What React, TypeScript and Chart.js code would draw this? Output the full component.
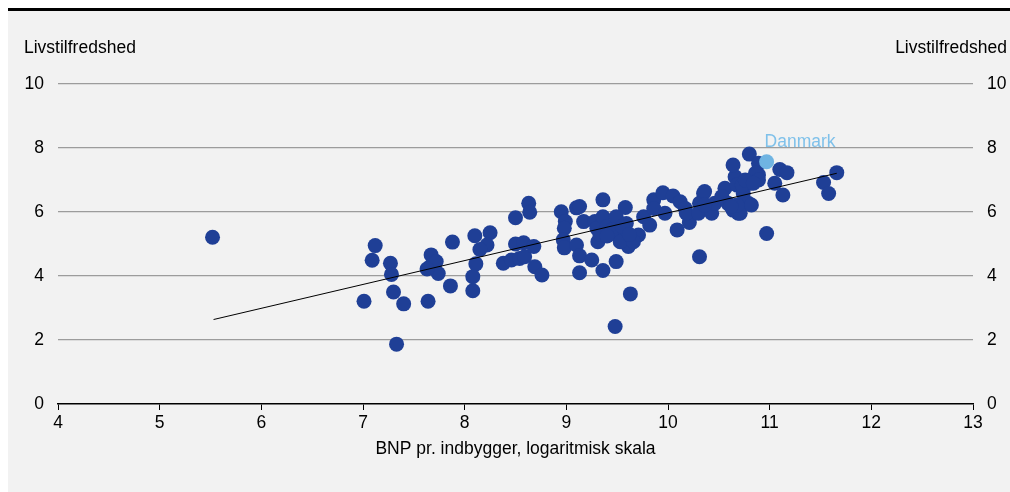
import React, { useEffect, useRef } from "react";
import { Chart, registerables } from "chart.js";

Chart.register(...registerables);

const Y_TITLE = "Livstilfredshed";
const X_TITLE = "BNP pr. indbygger, logaritmisk skala";
const DK_LABEL = "Danmark";

const gdp = [
  5.52, 7.01, 7.12, 7.09, 7.27, 7.28, 7.30, 7.40, 7.33, 7.64,
  7.67, 7.66, 7.72, 7.74, 7.63, 7.88, 7.86, 8.10, 8.25, 8.22,
  8.15, 8.11, 8.08, 8.08, 8.50, 8.63, 8.64, 8.50, 8.58, 8.38,
  8.46, 8.54, 8.59, 8.69, 8.76, 8.68, 8.95, 8.99, 8.98, 8.97,
  8.98, 9.10, 9.13, 9.10, 9.13, 9.13, 9.25, 9.17, 9.36, 9.28,
  9.30, 9.36, 9.40, 9.31, 9.36, 9.49, 9.48, 9.63, 9.58, 9.49,
  9.59, 9.61, 9.71, 9.76, 9.82, 9.86, 9.86, 9.95, 10.05, 9.97,
  10.12, 10.17, 10.09, 10.21, 10.31, 10.35, 10.31, 9.51, 9.46, 9.53,
  9.45, 9.66, 10.18, 10.30, 10.43, 10.46, 10.56, 10.59, 10.64, 10.69,
  10.66, 10.68, 10.74, 10.79, 10.81, 10.89, 10.97, 11.05, 10.80, 10.64,
  10.89, 10.86, 11.10, 11.17, 11.13, 10.53, 10.36, 10.36, 10.71, 10.82,
  10.73, 10.68, 10.62, 10.76, 10.89, 10.84, 11.66, 11.53, 11.58, 9.33,
  9.40, 9.55, 9.62,
];
const satisfaction = [
  5.21, 3.21, 4.95, 4.49, 4.40, 4.05, 3.50, 3.13, 1.87, 3.21,
  4.66, 4.29, 4.45, 4.08, 4.22, 5.06, 3.69, 5.26, 5.35, 4.97,
  4.83, 4.38, 3.98, 3.54, 5.82, 6.27, 5.99, 5.00, 5.04, 4.40,
  4.50, 4.55, 4.60, 4.29, 4.03, 4.92, 6.01, 5.70, 5.49, 5.13,
  4.88, 6.13, 6.17, 4.97, 4.63, 4.10, 4.50, 5.70, 6.38, 5.70,
  5.49, 5.85, 5.54, 5.07, 4.17, 4.45, 2.42, 3.44, 6.14, 5.85,
  5.64, 4.92, 5.28, 5.85, 5.59, 6.38, 6.11, 6.60, 6.50, 5.96,
  6.32, 6.11, 5.44, 5.67, 4.60, 6.58, 6.27, 5.33, 5.33, 5.07,
  5.44, 5.07, 5.96, 5.96, 5.96, 6.27, 6.74, 6.27, 6.06, 5.96,
  7.10, 6.84, 6.58, 6.27, 6.90, 7.16, 5.33, 6.90, 7.81, 7.47,
  7.52, 7.21, 7.33, 7.23, 6.53, 6.48, 6.64, 6.22, 5.96, 6.22,
  6.84, 6.22, 6.17, 7.00, 7.00, 6.90, 7.23, 6.92, 6.58, 5.30,
  5.25, 5.55, 5.30,
];
const denmarkGdp = [10.97];
const denmarkSatisfaction = [7.57];
const trendGdp = [5.53, 11.66];
const trendSatisfaction = [2.64, 7.21];

const FONT = '"Liberation Sans", Arial, sans-serif';
const DARK_BLUE = "#1f3f96";
const LIGHT_BLUE = "#6fb4e2";

const textPlugin = {
  id: "texts",
  afterDraw(chart: any) {
    const { ctx, chartArea, scales } = chart;
    ctx.save();
    ctx.font = `17.5px ${FONT}`;
    ctx.fillStyle = "#000";
    ctx.textBaseline = "middle";
    ctx.textAlign = "left";
    ctx.fillText(Y_TITLE, 16, chartArea.top - 36);
    ctx.textAlign = "right";
    ctx.fillText(Y_TITLE, chart.width - 3, chartArea.top - 36);
    ctx.textAlign = "center";
    ctx.fillText(X_TITLE, (chartArea.left + chartArea.right) / 2, chartArea.bottom + 45);
    const px = scales.x.getPixelForValue(denmarkGdp[0]);
    const py = scales.y.getPixelForValue(denmarkSatisfaction[0]);
    ctx.fillStyle = "#7fc1ea";
    ctx.textAlign = "left";
    ctx.fillText(DK_LABEL, px - 2, py - 20);
    ctx.restore();
  },
};

export default function App() {
  const ref = useRef<HTMLCanvasElement>(null);
  useEffect(() => {
    document.documentElement.style.overflow = "hidden";
    document.body.style.overflow = "hidden";
    if (!ref.current) return;
    const chart = new Chart(ref.current, {
      type: "scatter",
      data: {
        datasets: [
          {
            type: "line",
            data: trendGdp.map((x, i) => ({ x, y: trendSatisfaction[i] })),
            borderColor: "#000",
            borderWidth: 1,
            pointRadius: 0,
            showLine: true,
            fill: false,
            order: 0,
            yAxisID: "y",
          } as any,
          {
            data: denmarkGdp.map((x, i) => ({ x, y: denmarkSatisfaction[i] })),
            backgroundColor: LIGHT_BLUE,
            borderWidth: 0,
            pointRadius: 7.5,
            order: 1,
            yAxisID: "y",
          },
          {
            data: gdp.map((x, i) => ({ x, y: satisfaction[i] })),
            backgroundColor: DARK_BLUE,
            borderWidth: 0,
            pointRadius: 7.5,
            order: 2,
            yAxisID: "y",
          },
        ],
      },
      options: {
        animation: false,
        responsive: true,
        maintainAspectRatio: false,
        layout: { padding: { top: 73, left: 0, right: 0, bottom: 0 } },
        plugins: { legend: { display: false }, tooltip: { enabled: false }, title: { display: false } },
        scales: {
          x: {
            type: "linear",
            position: "bottom",
            min: 4,
            max: 13,
            ticks: { stepSize: 1, color: "#000", font: { family: FONT, size: 17.5 }, padding: 3 },
            grid: { drawOnChartArea: false, drawTicks: true, tickLength: 6, color: "#000" },
            border: { display: true, color: "#000", width: 1.5 },
            afterFit: (s: any) => { s.height = 88; },
          },
          y: {
            type: "linear",
            position: "left",
            min: 0,
            max: 10,
            ticks: { stepSize: 2, color: "#000", font: { family: FONT, size: 17.5 }, padding: 14 },
            grid: {
              drawTicks: false,
              color: (c: any) => (c.tick && c.tick.value === 0 ? "rgba(0,0,0,0)" : "#9c9c9c"),
              lineWidth: 1.2,
            },
            border: { display: false },
            afterFit: (s: any) => { s.width = 50; },
          },
          y2: {
            type: "linear",
            position: "right",
            min: 0,
            max: 10,
            ticks: { stepSize: 2, color: "#000", font: { family: FONT, size: 17.5 }, padding: 14 },
            grid: { display: false, drawTicks: false },
            border: { display: false },
            afterFit: (s: any) => { s.width = 37; },
          },
        },
      } as any,
      plugins: [textPlugin],
    });
    return () => chart.destroy();
  }, []);

  return (
    <div
      style={{
        position: "fixed",
        left: 8,
        top: 8,
        width: 1002,
        height: 481,
        borderTop: "3px solid #000",
        background: "#f2f2f2",
      }}
    >
      <canvas ref={ref} />
    </div>
  );
}
